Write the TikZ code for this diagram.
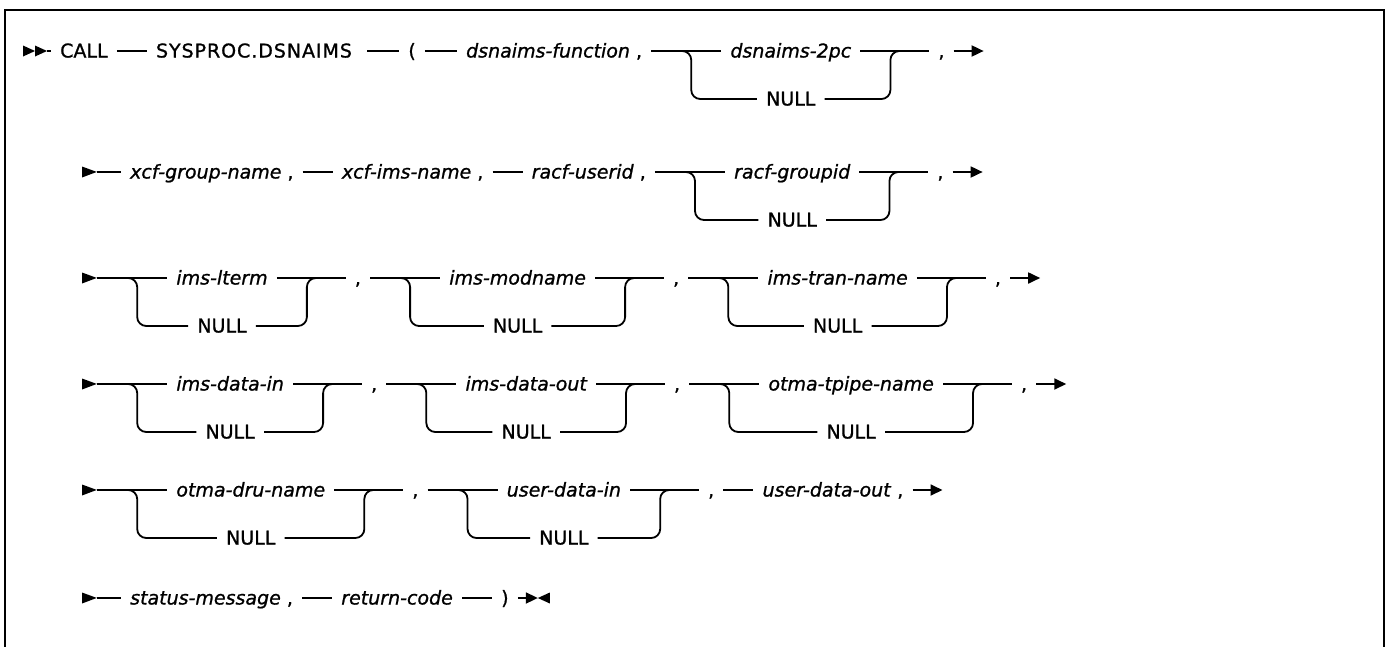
\documentclass[tikz,border=0pt]{standalone}
\usepackage{fontspec}
\setmainfont{DejaVu Sans}[FakeBold=1.0]
\usetikzlibrary{positioning,calc,arrows.meta}
\newcommand{\dep}{48}
\newcommand{\rr}{9pt}
\newcommand{\optbranch}[3]{%
  \coordinate (#2a) at ($(#1.east)+(40,0)$);
  \node[var, anchor=west] (#2t) at ($(#2a)+(30,0)$) {#3};
  \coordinate (#2b) at ($(#2t.east)+(30,0)$);
  \node[kw] (#2n) at ($(#2a)!0.5!(#2b)+(0,\dep)$) {NULL};
  \node[kw] (#2c) at ($(#2b)+(51,0)$) {,};
  \draw[ln] (#1) -- (#2t);
  \draw[ln] (#2t) -- (#2c);
  \draw[ln, rounded corners=\rr] ($(#2a)+(-20,0)$) -- (#2a) -- (#2a |- #2n) -- (#2n);
  \draw[ln, rounded corners=\rr] (#2n) -- (#2b |- #2n) -- (#2b) -- ($(#2b)+(20,0)$);
}
\newcommand{\startarrow}[1]{\fill (#1) -- ++(-15,-5.5) -- ++(0,11) -- cycle;}
\begin{document}
\begin{tikzpicture}[x=1pt, y=-1pt,
  ln/.style={line width=1.8pt},
  kw/.style={font=\fontsize{19}{22}\selectfont, inner xsep=9pt, inner ysep=0pt, text height=13pt, text depth=0pt},
  var/.style={kw, font=\fontsize{19}{22}\selectfont\itshape},
  startpt/.style={inner sep=0pt, minimum size=0pt},
  endarrow/.style={ln, -{Triangle[length=12pt,width=11pt]}}]
\useasboundingbox (0,0) rectangle (1387,646);
\draw[line width=2.5pt] (5,650) -- (5,10) -- (1384,10) -- (1384,650);

% ---------- row 1
\fill (23,45.5) -- (35,51) -- (23,56.5) -- cycle;
\fill (35,45.5) -- (47,51) -- (35,56.5) -- cycle;
\node[startpt] (s1) at (47,51) {};
\node[kw, anchor=west] (call) at (51,51) {CALL};
\node[kw, right=30pt of call] (sys) {\addfontfeature{LetterSpace=5}SYSPROC.DSNAIMS\hspace*{6pt}};
\node[kw, right=32pt of sys] (lp) {(};
\node[kw, right=32pt of lp] (fn) {\textit{dsnaims-function} ,};
\draw[ln] (s1) -- (call);
\draw[ln] (call) -- (sys);
\draw[ln] (sys) -- (lp);
\draw[ln] (lp) -- (fn);
\optbranch{fn}{ba}{dsnaims-2pc}
\coordinate (e1) at ($(bac.east)+(30,0)$);
\draw[endarrow] (bac) -- (e1);

% ---------- row 2
\node[startpt] (s2) at (97,172) {};
\startarrow{s2}
\node[kw, anchor=west] (xg) at (121,172) {\textit{xcf-group-name} ,};
\node[kw, right=30pt of xg] (xi) {\textit{xcf-ims-name} ,};
\node[kw, right=30pt of xi] (ru) {\textit{racf-userid} ,};
\draw[ln] (s2) -- (xg);
\draw[ln] (xg) -- (xi);
\draw[ln] (xi) -- (ru);
\optbranch{ru}{bb}{racf-groupid}
\coordinate (e2) at ($(bbc.east)+(30,0)$);
\draw[endarrow] (bbc) -- (e2);

% ---------- row 3
\node[startpt] (s3) at (97,278) {};
\startarrow{s3}
\optbranch{s3}{bc}{ims-lterm}
\optbranch{bcc}{bd}{ims-modname}
\optbranch{bdc}{be}{ims-tran-name}
\coordinate (e3) at ($(bec.east)+(30,0)$);
\draw[endarrow] (bec) -- (e3);

% ---------- row 4
\node[startpt] (s4) at (97,384) {};
\startarrow{s4}
\optbranch{s4}{bf}{ims-data-in}
\optbranch{bfc}{bg}{ims-data-out}
\optbranch{bgc}{bh}{otma-tpipe-name}
\coordinate (e4) at ($(bhc.east)+(30,0)$);
\draw[endarrow] (bhc) -- (e4);

% ---------- row 5
\node[startpt] (s5) at (97,490) {};
\startarrow{s5}
\optbranch{s5}{bi}{otma-dru-name}
\optbranch{bic}{bj}{user-data-in}
\node[kw, right=30pt of bjc] (udo) {\textit{user-data-out} ,};
\draw[ln] (bjc) -- (udo);
\coordinate (e5) at ($(udo.east)+(30,0)$);
\draw[endarrow] (udo) -- (e5);

% ---------- row 6
\node[startpt] (s6) at (97,598) {};
\startarrow{s6}
\node[kw, anchor=west] (sm) at (121,598) {\textit{status-message} ,};
\node[kw, right=30pt of sm] (rc) {\textit{return-code}};
\node[kw, right=30pt of rc] (rp) {)};
\draw[ln] (s6) -- (sm);
\draw[ln] (sm) -- (rc);
\draw[ln] (rc) -- (rp);
\coordinate (e6) at ($(rp.east)+(20,0)$);
\draw[endarrow] (rp) -- (e6);
\fill (e6) -- ++(12,-5.5) -- ++(0,11) -- cycle;
\end{tikzpicture}
\end{document}
